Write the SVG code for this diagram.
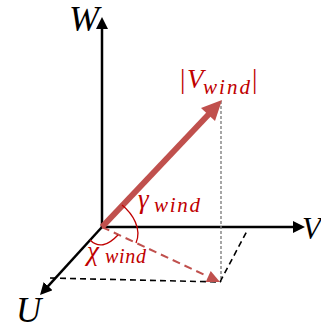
<svg xmlns="http://www.w3.org/2000/svg" width="321" height="329" viewBox="0 0 321 329">
<style>
.axis{stroke:#000;stroke-width:2.5;fill:none}
.lbl{font-family:"Liberation Serif",serif;font-style:italic;fill:#000}
.rlbl{font-family:"Liberation Serif",serif;font-style:italic;fill:#C00000}
.dash{stroke:#000;stroke-width:1.6;stroke-dasharray:6,4;fill:none}
.arc{stroke:#C00000;stroke-width:1.3;fill:none}
</style>
<defs>
<marker id="ah" viewBox="0 0 12 12" markerWidth="12" markerHeight="12" refX="4" refY="6" orient="auto" markerUnits="userSpaceOnUse">
<path d="M0,0 L12,6 L0,12 z" fill="#000"/>
</marker>
</defs>
<rect width="321" height="329" fill="#fff"/>
<g id="connectors">
<line class="axis" x1="102" y1="227" x2="102" y2="25" marker-end="url(#ah)"/>
<line class="axis" x1="102" y1="227" x2="297" y2="227" marker-end="url(#ah)"/>
<line class="axis" x1="102" y1="227" x2="45.4" y2="289.1" marker-end="url(#ah)"/>
<line x1="221" y1="101" x2="221" y2="282" stroke="#808080" stroke-width="1.4" stroke-dasharray="3,2"/>
<path class="dash" d="M50,278 L220,282 L248,229"/>
<line x1="102" y1="227" x2="207" y2="276" stroke="#C0504D" stroke-width="2" stroke-dasharray="8,5"/>
<polygon points="220,282 205.7,281.9 210.7,271.1" fill="#C0504D"/>
<line x1="102" y1="227" x2="209" y2="114" stroke="#C0504D" stroke-width="6"/>
<polygon points="222,100 215,121 201,108" fill="#C0504D"/>
<path class="arc" d="M122,205 C133,214 142,229 136,243"/>
<path class="arc" d="M90,240 Q102,252 118,235"/>
</g>
<g id="W"><text class="lbl" x="69" y="31" font-size="36">W</text></g>
<g id="V"><text class="lbl" x="302" y="239" font-size="31">V</text></g>
<g id="U"><text class="lbl" x="16" y="322" font-size="35">U</text></g>
<g id="Vwind"><text class="rlbl" y="88" font-size="27"><tspan x="180" font-style="normal">|</tspan><tspan x="187">V</tspan><tspan x="203" y="94" font-size="21" textLength="47" lengthAdjust="spacing">wind</tspan><tspan x="252" y="88" font-style="normal">|</tspan></text></g>
<g id="gamma"><text class="rlbl" y="208" font-size="27"><tspan x="138">γ</tspan><tspan x="154" y="212" font-size="21" textLength="46" lengthAdjust="spacing">wind</tspan></text></g>
<g id="chi"><text class="rlbl" y="260" font-size="27"><tspan x="87">χ</tspan><tspan x="105" y="263" font-size="20" textLength="41" lengthAdjust="spacing">wind</tspan></text></g>
</svg>
